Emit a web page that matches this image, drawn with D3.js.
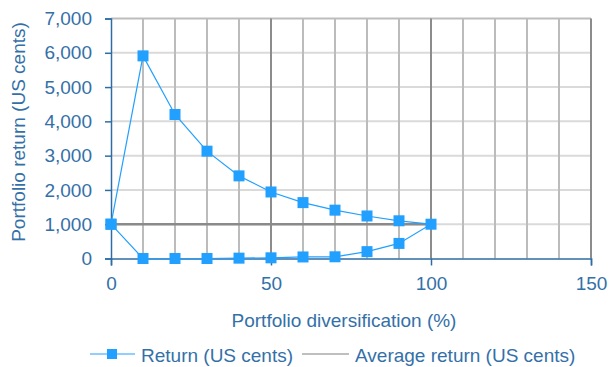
<!DOCTYPE html>
<html><head><meta charset="utf-8">
<script src="https://cdn.jsdelivr.net/npm/d3@7"></script>
<style>body{margin:0;background:#fff}svg{display:block}text{font-family:"Liberation Sans",Arial,sans-serif}</style>
</head><body><svg id="c" width="609" height="367"></svg>
<script>
const xs = [0,10,20,30,40,50,60,70,80,90,100,90,80,70,60,50,40,30,20,10,0];
const returns = [1000,5910,4200,3130,2410,1940,1630,1410,1240,1100,1000,440,200,50,45,20,10,0,0,0,1000];
const avgX = [0,100];
const avgY = [1000,1000];
const yTicks = [0,1000,2000,3000,4000,5000,6000,7000];
const xTicks = [0,50,100,150];
const xMinor = [10,20,30,40,60,70,80,90,110,120,130,140];
const seriesNames = ["Return (US cents)","Average return (US cents)"];

const svg = d3.select("#c");
const x = d3.scaleLinear().domain([0,150]).range([111,591]);
const y = d3.scaleLinear().domain([0,7000]).range([258.5,18.5]);
const blue = "#2e6da4", textC = "#3470a8", mark = "#22a0ff";
const fs = 19;

// horizontal grid
svg.append("g").selectAll("line").data(yTicks.slice(1)).join("line")
  .attr("x1",x(0)).attr("x2",x(150)).attr("y1",d=>y(d)).attr("y2",d=>y(d))
  .attr("stroke",(d)=>d===7000?"#bdbdbd":"#dadada").attr("stroke-width",2);
// minor vertical grid
svg.append("g").selectAll("line").data(xMinor).join("line")
  .attr("x1",d=>x(d)).attr("x2",d=>x(d)).attr("y1",y(0)).attr("y2",y(7000))
  .attr("stroke","#bcbcbc").attr("stroke-width",2);
// major vertical grid
svg.append("g").selectAll("line").data(xTicks.slice(1)).join("line")
  .attr("x1",d=>x(d)).attr("x2",d=>x(d)).attr("y1",y(0)).attr("y2",y(7000))
  .attr("stroke","#8c8c8c").attr("stroke-width",2);

// average line
svg.append("path").datum(avgX.map((d,i)=>[d,avgY[i]]))
  .attr("d",d3.line().x(d=>x(d[0])).y(d=>y(d[1])))
  .attr("stroke","#8a8a8a").attr("stroke-width",2.5).attr("fill","none");

// axes
const yAxis = d3.axisLeft(y).tickValues(yTicks).tickFormat(d3.format(",")).tickSize(6).tickPadding(13);
const gy = svg.append("g").attr("transform",`translate(${x(0)},0)`).call(yAxis);
const xAxis = d3.axisBottom(x).tickValues(xTicks).tickSize(7).tickPadding(11);
const gx = svg.append("g").attr("transform",`translate(0,${y(0)})`).call(xAxis);
[gx,gy].forEach(g=>{
  g.select(".domain").attr("stroke",blue).attr("stroke-width",1.5);
  g.selectAll(".tick line").attr("stroke",blue).attr("stroke-width",1.5);
  g.selectAll("text").attr("fill",textC).attr("font-size",fs);
});

// return series
const pts = xs.map((d,i)=>[d,returns[i]]);
svg.append("path").datum(pts)
  .attr("d",d3.line().x(d=>x(d[0])).y(d=>y(d[1])))
  .attr("stroke",mark).attr("stroke-width",1.2).attr("fill","none");
svg.append("g").selectAll("rect").data(pts).join("rect")
  .attr("x",d=>x(d[0])-5.5).attr("y",d=>y(d[1])-5.5).attr("width",11).attr("height",11)
  .attr("fill",mark);

// titles
svg.append("text").attr("x",344).attr("y",327).attr("text-anchor","middle")
  .attr("fill",textC).attr("font-size",fs).text("Portfolio diversification (%)");
svg.append("text").attr("transform","translate(25,132) rotate(-90)").attr("text-anchor","middle")
  .attr("fill",textC).attr("font-size",fs).text("Portfolio return (US cents)");

// legend
const ly = 354;
svg.append("line").attr("x1",90).attr("x2",135).attr("y1",ly).attr("y2",ly).attr("stroke",mark).attr("stroke-width",1.2);
svg.append("rect").attr("x",107).attr("y",ly-5).attr("width",10).attr("height",10).attr("fill",mark);
svg.append("text").attr("x",141).attr("y",ly+7.5).attr("fill",textC).attr("font-size",fs).text(seriesNames[0]);
svg.append("line").attr("x1",302).attr("x2",349).attr("y1",ly).attr("y2",ly).attr("stroke","#aaa").attr("stroke-width",1.5);
svg.append("text").attr("x",355).attr("y",ly+7.5).attr("fill",textC).attr("font-size",fs).text(seriesNames[1]);
</script></body></html>
